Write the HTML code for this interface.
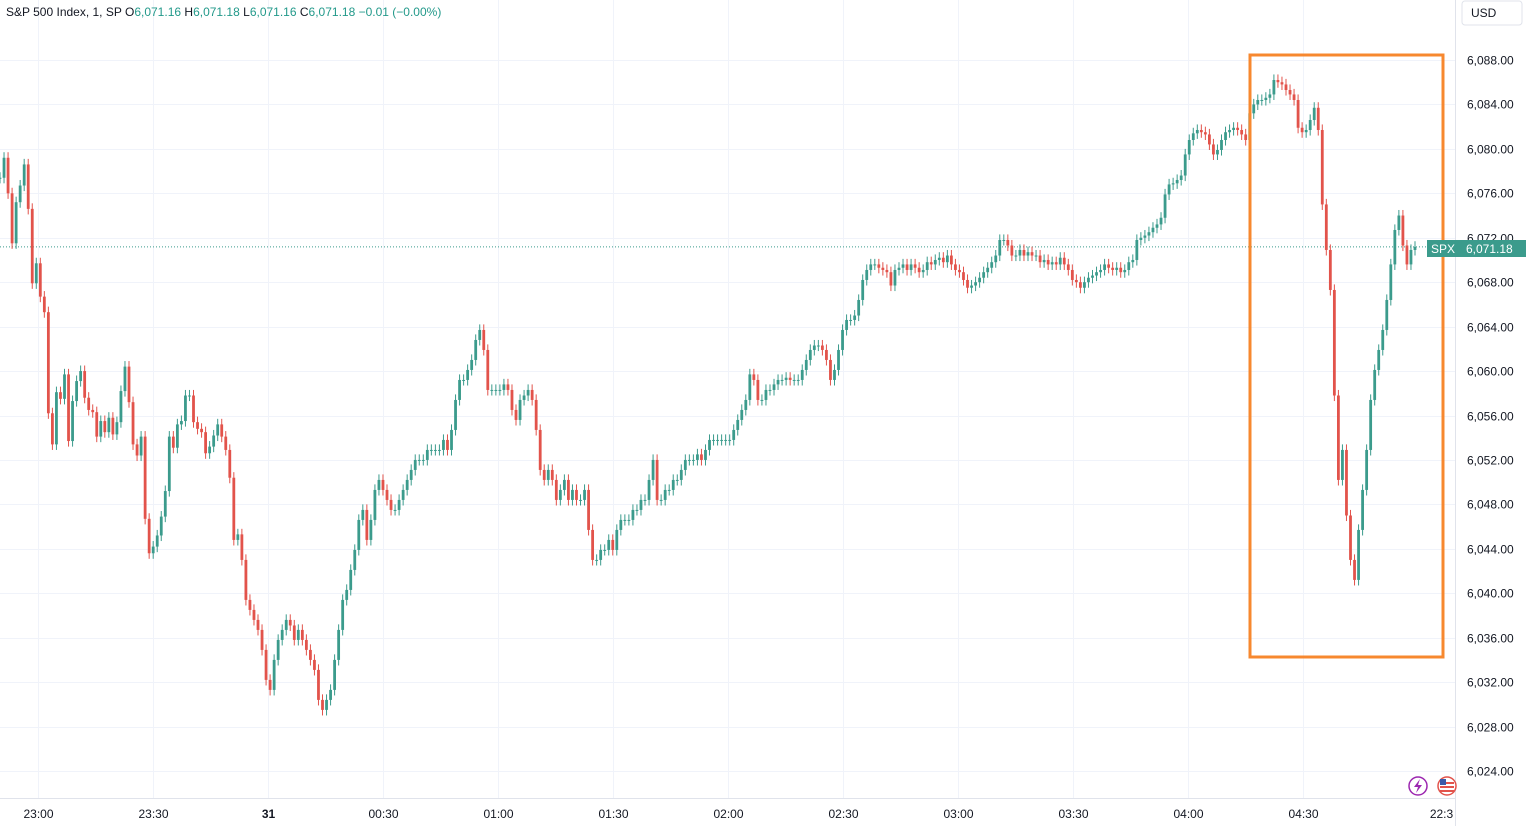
<!DOCTYPE html>
<html><head><meta charset="utf-8">
<style>
html,body{margin:0;padding:0;background:#fff;}
body{width:1526px;height:826px;overflow:hidden;font-family:"Liberation Sans",sans-serif;}
svg text{font-family:"Liberation Sans",sans-serif;}
</style></head>
<body>
<svg id="chart" width="1526" height="826" xmlns="http://www.w3.org/2000/svg">
  <defs><clipPath id="plotclip"><rect x="0" y="0" width="1455" height="826"/></clipPath></defs>
  <g id="grid"></g>
  <g id="candles"></g>
  <line x1="1455.5" y1="0" x2="1455.5" y2="826" stroke="#e0e3eb"/>
  <line x1="0" y1="798.5" x2="1455" y2="798.5" stroke="#e0e3eb"/>
  <g id="yaxis"></g>
  <g id="xaxis" clip-path="url(#plotclip)"></g>
  <rect x="1250" y="55" width="193" height="602" fill="none" stroke="#f7882f" stroke-width="3"/>
  <text x="6" y="16" font-size="12" fill="#131722">S&amp;P 500 Index, 1, SP <tspan fill="#131722">O</tspan><tspan fill="#22998a">6,071.16</tspan> <tspan fill="#131722">H</tspan><tspan fill="#22998a">6,071.18</tspan> <tspan fill="#131722">L</tspan><tspan fill="#22998a">6,071.16</tspan> <tspan fill="#131722">C</tspan><tspan fill="#22998a">6,071.18 −0.01 (−0.00%)</tspan></text>
  <g>
    <rect x="1462" y="1" width="60" height="24" rx="3" fill="#fff" stroke="#e0e3eb"/>
    <text x="1471" y="17" font-size="12" fill="#131722">USD</text>
  </g>
  <g>
    <rect x="1427" y="240" width="33" height="17" fill="#3b9b8c"/>
    <text x="1431" y="253" font-size="12" fill="#fff">SPX</text>
    <rect x="1460" y="240" width="66" height="17" fill="#3b9b8c"/>
    <text x="1466" y="253" font-size="12" fill="#fff">6,071.18</text>
  </g>
  <g>
    <circle cx="1418" cy="786" r="9" fill="#fff" stroke="#9c27b0" stroke-width="1.5"/>
    <path d="M1420 779 L1414 787 L1418 787 L1416 793 L1422 785 L1418 785 Z" fill="#9c27b0"/>
  </g>
  <g>
    <circle cx="1447" cy="786" r="9" fill="#fff" stroke="#e2534b" stroke-width="1.5"/>
    <rect x="1440" y="782" width="14" height="2" fill="#e2534b"/>
    <rect x="1440" y="786" width="14" height="2" fill="#e2534b"/>
    <rect x="1440" y="790" width="14" height="2" fill="#e2534b"/>
    <rect x="1440" y="779" width="6" height="6" fill="#3a5aa8"/>
  </g>
</svg>
<script>
const priceTicks = [6088,6084,6080,6076,6072,6068,6064,6060,6056,6052,6048,6044,6040,6036,6032,6028,6024];
const timeLabels = ["23:00","23:30","31","00:30","01:00","01:30","02:00","02:30","03:00","03:30","04:00","04:30","22:3"];
const timeMinutes = [0,30,60,90,120,150,180,210,240,270,300,330,366];
const lastPrice = 6071.18;
const closes = [6077.4,6079.2,6076.0,6071.5,6075.2,6076.7,6078.6,6074.6,6067.9,6069.7,6066.7,6065.3,6056.2,6053.4,6058.1,6057.5,6059.7,6053.7,6057.3,6059.1,6060.0,6057.6,6056.5,6056.3,6054.1,6055.5,6054.5,6055.8,6054.3,6055.4,6058.2,6060.4,6057.2,6053.4,6052.4,6054.1,6046.7,6043.6,6044.2,6045.2,6046.9,6049.2,6054.1,6053.1,6055.2,6055.5,6057.8,6057.8,6055.4,6054.8,6054.5,6052.6,6053.2,6054.2,6055.2,6054.1,6052.9,6050.4,6044.8,6045.3,6043.0,
6039.4,6038.5,6037.6,6036.7,6034.9,6032.2,6031.3,6034.0,6035.8,6036.7,6037.6,6037.1,6035.8,6036.7,6035.8,6034.9,6034.0,6033.1,6030.4,6029.5,6030.4,6031.3,6034.0,6036.7,6039.4,6040.3,6042.1,6043.9,6046.6,6047.5,6044.8,6046.6,6049.3,6050.2,6049.3,6048.4,6047.5,6047.5,6048.4,6049.3,6050.2,6051.1,6052.0,6052.0,6052.0,6052.9,6052.9,6052.9,6052.9,6053.8,6052.9,6054.7,6057.4,6059.2,6059.2,6060.1,6061.0,6062.8,6063.7,6061.9,6058.3,6058.3,6058.3,6058.3,6058.8,6058.3,6056.5,6055.6,6057.4,6057.8,6058.3,6057.4,6054.7,6051.1,6050.2,6051.1,6050.2,6048.4,6049.3,6050.2,6048.4,6049.3,6048.4,6048.4,6049.3,6045.7,6043.0,6043.0,6043.9,6043.9,6044.8,6043.9,6045.7,6046.6,6046.6,6046.6,6047.5,6047.5,6048.4,6048.4,6050.2,6052.0,6048.4,6048.4,6049.3,6049.3,6050.2,6050.2,6051.1,6052.0,6052.0,6052.0,6052.5,6052.0,6052.9,6053.8,6053.8,6053.8,6053.8,6053.8,6053.8,6054.7,6055.6,6056.5,6057.4,6059.7,6059.2,6057.4,6057.4,6058.3,6058.3,6058.8,6059.2,6059.2,6059.4,6059.2,6059.2,6059.2,6060.1,6061.0,6061.9,6062.3,6062.3,6061.9,6061.0,6059.2,6060.1,6061.9,6063.7,6064.6,6064.6,6065.0,6066.4,6068.2,6069.1,6069.6,6069.6,6069.3,6069.1,6068.9,6067.7,6069.1,6069.3,6069.6,6069.1,6069.6,6069.3,6068.9,6069.1,6069.8,6069.6,6070.0,6070.2,6069.8,6070.4,6069.6,6069.1,6068.9,6068.2,6067.5,6067.7,6068.0,6068.4,6068.9,6069.3,6069.8,6070.4,6071.8,6071.8,6071.3,6070.4,6070.4,6070.9,6070.4,6070.7,6070.4,6070.4,6069.8,6070.0,6069.6,6069.8,6069.6,6070.2,6069.6,6069.1,6068.2,6068.0,6067.5,6068.0,6068.4,6068.6,6068.9,6069.1,6069.6,6069.3,6069.1,6069.3,6068.9,6069.1,6069.8,6070.0,6071.8,6072.0,6072.2,6072.5,6072.9,6073.2,6073.8,6075.9,6076.8,6076.9,6077.2,6077.6,6079.5,6080.8,6081.4,6081.7,6081.5,6081.3,6080.4,6079.5,6079.9,6080.8,6081.5,6081.7,6081.9,6081.7,6081.3,6080.8,6083.2,6084.0,6084.4,6084.4,6084.6,6084.9,6086.2,6086.0,6085.8,6085.3,6084.9,6084.4,6081.9,6081.5,6081.7,6082.6,6083.7,6081.7,6075.0,6070.9,6067.3,6057.8,6050.2,6052.9,6047.0,6043.0,6041.2,6045.7,6049.3,6052.9,6057.4,6060.1,6061.9,6063.7,6066.4,6069.6,6072.7,6074.0,6071.3,6069.6,6070.9,6071.18];

const NS = "http://www.w3.org/2000/svg";
const plotLeft = 0, plotRight = 1415;
const yTop = 60, yPer = 711/64;
function yScale(p){ return yTop + (6088 - p) * yPer; }
function xScale(i){ return plotLeft + i * (plotRight - plotLeft) / (closes.length - 1); }
function xTime(m){ return 38 + m * 115/30; }
function mk(tag, attrs, parent){
  const e = document.createElementNS(NS, tag);
  for (const k in attrs) e.setAttribute(k, attrs[k]);
  parent.appendChild(e);
  return e;
}
const grid = document.getElementById('grid');
const yaxis = document.getElementById('yaxis');
const xaxis = document.getElementById('xaxis');
const cg = document.getElementById('candles');

priceTicks.forEach(p => {
  const y = Math.round(yScale(p)) + 0.5;
  const gl = mk('line', {x1:0, x2:1455, y1:y, y2:y, stroke:'#f0f3fa'}, grid);
  
  
  const t = mk('text', {x:1467, y:y+4, 'font-size':12, fill:'#131722'}, yaxis);
  
  
  t.textContent = p.toLocaleString('en-US', {minimumFractionDigits:2});
});
timeLabels.forEach((lab, k) => {
  const x = Math.round(xTime(timeMinutes[k])) + 0.5;
  if (k < timeLabels.length - 1) {
    const gl = mk('line', {x1:x, x2:x, y1:0, y2:798, stroke:'#f0f3fa'}, grid);
    
    
  }
  const t = mk('text', {x:x, y:818, 'font-size':12, fill:'#131722', 'text-anchor':'middle', 'font-weight': lab === '31' ? 'bold' : 'normal'}, xaxis);
  
  
  t.textContent = lab;
});
const pl = mk('line', {x1:0, x2:1455, y1:yScale(lastPrice), y2:yScale(lastPrice), stroke:'#3b9b8c', 'stroke-dasharray':'1 2'}, grid);



const bw = 2.8;
for (let i = 0; i < closes.length; i++) {
  const c = closes[i];
  const o = i > 0 ? closes[i-1] : c;
  const up = c >= o;
  const col = up ? '#3b9b8c' : '#e2534b';
  const x = xScale(i);
  const hi = Math.max(o, c) + 0.5, lo = Math.min(o, c) - 0.5;
  const w = mk('line', {x1:x, x2:x, y1:yScale(hi), y2:yScale(lo), stroke:col, 'stroke-width':1}, cg);
  
  
  const yt = yScale(Math.max(o, c)), yb = yScale(Math.min(o, c));
  const r = mk('rect', {x:x - bw/2, y:yt, width:bw, height:Math.max(1, yb - yt), fill:col}, cg);
  
  
}
</script>
</body></html>
